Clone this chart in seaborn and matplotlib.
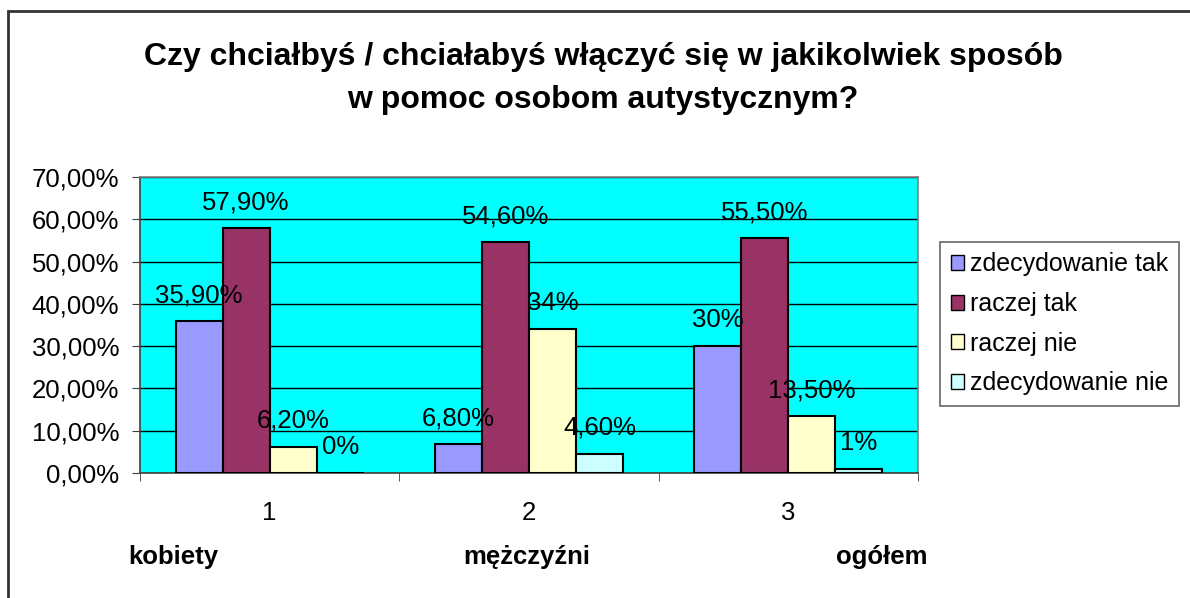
import seaborn as sns
import pandas as pd
import matplotlib.pyplot as plt
from matplotlib.patches import Rectangle, Patch

categories = ["1", "2", "3"]
group_names = ["kobiety", "mężczyźni", "ogółem"]
series = ["zdecydowanie tak", "raczej tak", "raczej nie", "zdecydowanie nie"]
values = {
    "zdecydowanie tak": [35.9, 6.8, 30.0],
    "raczej tak": [57.9, 54.6, 55.5],
    "raczej nie": [6.2, 34.0, 13.5],
    "zdecydowanie nie": [0.0, 4.6, 1.0],
}
labels = {
    "zdecydowanie tak": ["35,90%", "6,80%", "30%"],
    "raczej tak": ["57,90%", "54,60%", "55,50%"],
    "raczej nie": ["6,20%", "34%", "13,50%"],
    "zdecydowanie nie": ["0%", "4,60%", "1%"],
}
colors = ["#9999FF", "#993366", "#FFFFCC", "#CCFFFF"]
y_ticks = [0, 10, 20, 30, 40, 50, 60, 70]
y_ticklabels = ["0,00%", "10,00%", "20,00%", "30,00%", "40,00%", "50,00%", "60,00%", "70,00%"]

rows = []
for s in series:
    for c, v in zip(categories, values[s]):
        rows.append({"kat": c, "seria": s, "wartosc": v})
df = pd.DataFrame(rows)

sns.set_style("white")
plt.rcParams["font.family"] = ["Liberation Sans", "DejaVu Sans"]
plt.rcParams["text.color"] = "black"
plt.rcParams["xtick.color"] = "black"
plt.rcParams["ytick.color"] = "black"

fs = 18.5

fig = plt.figure(figsize=(11.9, 5.98), dpi=100)
ax = fig.add_axes([140 / 1190, 1 - 473 / 598, 778 / 1190, 296 / 598])
ax.set_facecolor("#00FFFF")

sns.barplot(data=df, x="kat", y="wartosc", hue="seria", order=categories,
            hue_order=series, palette=colors, width=0.726, edgecolor="black",
            linewidth=1.5, saturation=1, legend=False, ax=ax, zorder=3)

# etykiety nad słupkami
for cont, s in zip(ax.containers, series):
    ax.bar_label(cont, labels=labels[s], padding=10, fontsize=fs, color="black")

ax.set_ylim(0, 70)
ax.set_xlim(-0.5, 2.5)
ax.set_yticks(y_ticks)
ax.set_yticklabels(y_ticklabels, fontsize=fs)
ax.yaxis.grid(True, color="black", linewidth=1, zorder=0)
ax.set_axisbelow(True)
ax.tick_params(axis="y", left=True, length=6, color="#404040", pad=9)
ax.set_xticks([0, 1, 2])
ax.set_xticklabels(categories, fontsize=fs)
ax.set_xticks([-0.5, 0.5, 1.5, 2.5], minor=True)
ax.tick_params(axis="x", which="major", length=0, pad=20)
ax.tick_params(axis="x", which="minor", bottom=True, length=6, color="#404040")
ax.set_xlabel("")
ax.set_ylabel("")
for name, sp in ax.spines.items():
    sp.set_visible(True)
    sp.set_color("#808080" if name in ("top", "right") else "#404040")
    sp.set_linewidth(1.2)

fig.text(603 / 1190, 1 - 57 / 598, "Czy chciałbyś / chciałabyś włączyć się w jakikolwiek sposób",
         ha="center", va="center", fontsize=23, fontweight="bold")
fig.text(603 / 1190, 1 - 100 / 598, "w pomoc osobom autystycznym?",
         ha="center", va="center", fontsize=23, fontweight="bold")

for x, name in zip([173, 527, 882], group_names):
    fig.text(x / 1190, 1 - 557 / 598, name, ha="center", va="center",
             fontsize=fs, fontweight="bold")

handles = [Patch(facecolor=c, edgecolor="black", linewidth=1) for c in colors]
leg = fig.legend(handles, series, loc="upper left",
                 bbox_to_anchor=(940 / 1190, 1 - 242 / 598), fontsize=18,
                 frameon=True, fancybox=False, edgecolor="#404040",
                 handlelength=0.55, handleheight=0.55, handletextpad=0.25,
                 labelspacing=0.62, borderpad=0.42, borderaxespad=0)
leg.get_frame().set_linewidth(1.2)

# zewnętrzna ramka wykresu
fig.patches.append(Rectangle((8 / 1190, -0.1), 1.2, 1.1 - 11 / 598, fill=False,
                             edgecolor="#333333", linewidth=2,
                             transform=fig.transFigure, figure=fig))

fig.savefig("out.png", dpi=100, facecolor="white")
